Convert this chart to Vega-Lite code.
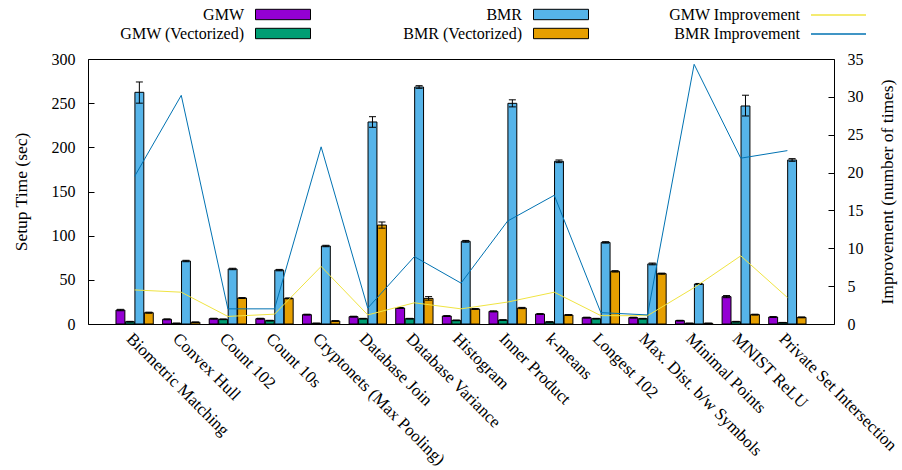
{
  "$schema": "https://vega.github.io/schema/vega-lite/v6.json",
  "autosize": "none",
  "width": 746,
  "height": 265,
  "padding": {"left": 88, "top": 59, "right": 68, "bottom": 146},
  "background": "white",
  "config": {
    "view": {"stroke": "black", "strokeWidth": 1},
    "font": "Liberation Serif",
    "axis": {
      "labelFont": "Liberation Serif", "labelFontSize": 16, "labelColor": "black",
      "titleFont": "Liberation Serif", "titleFontSize": 17.5, "titleFontWeight": "normal", "titleColor": "black",
      "tickColor": "black", "domain": false, "grid": false
    },
    "legend": {
      "labelFont": "Liberation Serif", "labelFontSize": 16, "labelColor": "black",
      "labelAlign": "right", "labelOffset": -49.5, "symbolOffset": 17.5, "rowPadding": 0, "title": null
    }
  },
  "datasets": {
    "bars": [
      {"task": "Biometric Matching", "series": "GMW", "value": 15.8, "lo": 15.0, "hi": 16.6},
      {"task": "Biometric Matching", "series": "GMW (Vectorized)", "value": 2.6, "lo": 2.2, "hi": 3.0},
      {"task": "Biometric Matching", "series": "BMR", "value": 262.3, "lo": 250, "hi": 274},
      {"task": "Biometric Matching", "series": "BMR (Vectorized)", "value": 12.8, "lo": 12.2, "hi": 13.4},
      {"task": "Convex Hull", "series": "GMW", "value": 5.3, "lo": 4.8, "hi": 5.8},
      {"task": "Convex Hull", "series": "GMW (Vectorized)", "value": 0.8, "lo": 0.6, "hi": 1.0},
      {"task": "Convex Hull", "series": "BMR", "value": 71.3, "lo": 70.5, "hi": 72.1},
      {"task": "Convex Hull", "series": "BMR (Vectorized)", "value": 2.0, "lo": 1.7, "hi": 2.3},
      {"task": "Count 102", "series": "GMW", "value": 6.0, "lo": 5.5, "hi": 6.5},
      {"task": "Count 102", "series": "GMW (Vectorized)", "value": 5.3, "lo": 4.9, "hi": 5.7},
      {"task": "Count 102", "series": "BMR", "value": 62.3, "lo": 61.5, "hi": 63.1},
      {"task": "Count 102", "series": "BMR (Vectorized)", "value": 29.4, "lo": 28.9, "hi": 29.9},
      {"task": "Count 10s", "series": "GMW", "value": 6.0, "lo": 5.5, "hi": 6.5},
      {"task": "Count 10s", "series": "GMW (Vectorized)", "value": 3.8, "lo": 3.4, "hi": 4.2},
      {"task": "Count 10s", "series": "BMR", "value": 61.0, "lo": 60.2, "hi": 61.8},
      {"task": "Count 10s", "series": "BMR (Vectorized)", "value": 29.0, "lo": 28.5, "hi": 29.5},
      {"task": "Cryptonets (Max Pooling)", "series": "GMW", "value": 10.6, "lo": 10.1, "hi": 11.1},
      {"task": "Cryptonets (Max Pooling)", "series": "GMW (Vectorized)", "value": 0.8, "lo": 0.6, "hi": 1.0},
      {"task": "Cryptonets (Max Pooling)", "series": "BMR", "value": 88.3, "lo": 87.5, "hi": 89.1},
      {"task": "Cryptonets (Max Pooling)", "series": "BMR (Vectorized)", "value": 3.4, "lo": 3.0, "hi": 3.8},
      {"task": "Database Join", "series": "GMW", "value": 8.3, "lo": 7.8, "hi": 8.8},
      {"task": "Database Join", "series": "GMW (Vectorized)", "value": 6.0, "lo": 5.6, "hi": 6.4},
      {"task": "Database Join", "series": "BMR", "value": 228.7, "lo": 222.7, "hi": 234.7},
      {"task": "Database Join", "series": "BMR (Vectorized)", "value": 112.0, "lo": 108.5, "hi": 115.5},
      {"task": "Database Variance", "series": "GMW", "value": 18.1, "lo": 17.5, "hi": 18.7},
      {"task": "Database Variance", "series": "GMW (Vectorized)", "value": 6.0, "lo": 5.6, "hi": 6.4},
      {"task": "Database Variance", "series": "BMR", "value": 268.3, "lo": 266.8, "hi": 269.8},
      {"task": "Database Variance", "series": "BMR (Vectorized)", "value": 29.0, "lo": 27.0, "hi": 31.0},
      {"task": "Histogram", "series": "GMW", "value": 9.0, "lo": 8.5, "hi": 9.5},
      {"task": "Histogram", "series": "GMW (Vectorized)", "value": 4.1, "lo": 3.7, "hi": 4.5},
      {"task": "Histogram", "series": "BMR", "value": 93.6, "lo": 92.6, "hi": 94.6},
      {"task": "Histogram", "series": "BMR (Vectorized)", "value": 17.0, "lo": 16.5, "hi": 17.5},
      {"task": "Inner Product", "series": "GMW", "value": 14.3, "lo": 13.7, "hi": 14.9},
      {"task": "Inner Product", "series": "GMW (Vectorized)", "value": 4.5, "lo": 4.1, "hi": 4.9},
      {"task": "Inner Product", "series": "BMR", "value": 249.8, "lo": 245.8, "hi": 253.8},
      {"task": "Inner Product", "series": "BMR (Vectorized)", "value": 18.1, "lo": 17.4, "hi": 18.8},
      {"task": "k-means", "series": "GMW", "value": 11.3, "lo": 10.8, "hi": 11.8},
      {"task": "k-means", "series": "GMW (Vectorized)", "value": 2.3, "lo": 2.0, "hi": 2.6},
      {"task": "k-means", "series": "BMR", "value": 184.2, "lo": 182.7, "hi": 185.7},
      {"task": "k-means", "series": "BMR (Vectorized)", "value": 10.2, "lo": 9.7, "hi": 10.7},
      {"task": "Longest 102", "series": "GMW", "value": 7.2, "lo": 6.7, "hi": 7.7},
      {"task": "Longest 102", "series": "GMW (Vectorized)", "value": 6.0, "lo": 5.6, "hi": 6.4},
      {"task": "Longest 102", "series": "BMR", "value": 92.4, "lo": 91.6, "hi": 93.2},
      {"task": "Longest 102", "series": "BMR (Vectorized)", "value": 59.6, "lo": 58.8, "hi": 60.4},
      {"task": "Max. Dist. b/w Symbols", "series": "GMW", "value": 7.2, "lo": 6.7, "hi": 7.7},
      {"task": "Max. Dist. b/w Symbols", "series": "GMW (Vectorized)", "value": 6.0, "lo": 5.6, "hi": 6.4},
      {"task": "Max. Dist. b/w Symbols", "series": "BMR", "value": 68.0, "lo": 67.0, "hi": 69.0},
      {"task": "Max. Dist. b/w Symbols", "series": "BMR (Vectorized)", "value": 57.0, "lo": 56.4, "hi": 57.6},
      {"task": "Minimal Points", "series": "GMW", "value": 3.8, "lo": 3.4, "hi": 4.2},
      {"task": "Minimal Points", "series": "GMW (Vectorized)", "value": 0.8, "lo": 0.6, "hi": 1.0},
      {"task": "Minimal Points", "series": "BMR", "value": 45.3, "lo": 44.7, "hi": 45.9},
      {"task": "Minimal Points", "series": "BMR (Vectorized)", "value": 0.8, "lo": 0.6, "hi": 1.0},
      {"task": "MNIST ReLU", "series": "GMW", "value": 31.0, "lo": 29.8, "hi": 32.2},
      {"task": "MNIST ReLU", "series": "GMW (Vectorized)", "value": 2.6, "lo": 2.2, "hi": 3.0},
      {"task": "MNIST ReLU", "series": "BMR", "value": 246.8, "lo": 235.5, "hi": 259.0},
      {"task": "MNIST ReLU", "series": "BMR (Vectorized)", "value": 10.6, "lo": 10.1, "hi": 11.1},
      {"task": "Private Set Intersection", "series": "GMW", "value": 7.9, "lo": 7.4, "hi": 8.4},
      {"task": "Private Set Intersection", "series": "GMW (Vectorized)", "value": 1.5, "lo": 1.2, "hi": 1.8},
      {"task": "Private Set Intersection", "series": "BMR", "value": 185.7, "lo": 184.2, "hi": 187.2},
      {"task": "Private Set Intersection", "series": "BMR (Vectorized)", "value": 7.5, "lo": 7.0, "hi": 8.0}
    ],
    "lines": [
      {"task": "Biometric Matching", "series": "GMW Improvement", "improvement": 4.5},
      {"task": "Convex Hull", "series": "GMW Improvement", "improvement": 4.2},
      {"task": "Count 102", "series": "GMW Improvement", "improvement": 1.0},
      {"task": "Count 10s", "series": "GMW Improvement", "improvement": 1.3},
      {"task": "Cryptonets (Max Pooling)", "series": "GMW Improvement", "improvement": 7.6},
      {"task": "Database Join", "series": "GMW Improvement", "improvement": 1.2},
      {"task": "Database Variance", "series": "GMW Improvement", "improvement": 2.8},
      {"task": "Histogram", "series": "GMW Improvement", "improvement": 2.0},
      {"task": "Inner Product", "series": "GMW Improvement", "improvement": 2.9},
      {"task": "k-means", "series": "GMW Improvement", "improvement": 4.2},
      {"task": "Longest 102", "series": "GMW Improvement", "improvement": 1.1},
      {"task": "Max. Dist. b/w Symbols", "series": "GMW Improvement", "improvement": 1.1},
      {"task": "Minimal Points", "series": "GMW Improvement", "improvement": 4.8},
      {"task": "MNIST ReLU", "series": "GMW Improvement", "improvement": 9.0},
      {"task": "Private Set Intersection", "series": "GMW Improvement", "improvement": 3.5},
      {"task": "Biometric Matching", "series": "BMR Improvement", "improvement": 19.5},
      {"task": "Convex Hull", "series": "BMR Improvement", "improvement": 30.2},
      {"task": "Count 102", "series": "BMR Improvement", "improvement": 2.0},
      {"task": "Count 10s", "series": "BMR Improvement", "improvement": 2.0},
      {"task": "Cryptonets (Max Pooling)", "series": "BMR Improvement", "improvement": 23.4},
      {"task": "Database Join", "series": "BMR Improvement", "improvement": 2.1},
      {"task": "Database Variance", "series": "BMR Improvement", "improvement": 8.9},
      {"task": "Histogram", "series": "BMR Improvement", "improvement": 5.4},
      {"task": "Inner Product", "series": "BMR Improvement", "improvement": 13.6},
      {"task": "k-means", "series": "BMR Improvement", "improvement": 17.0},
      {"task": "Longest 102", "series": "BMR Improvement", "improvement": 1.5},
      {"task": "Max. Dist. b/w Symbols", "series": "BMR Improvement", "improvement": 1.2},
      {"task": "Minimal Points", "series": "BMR Improvement", "improvement": 34.3},
      {"task": "MNIST ReLU", "series": "BMR Improvement", "improvement": 21.9},
      {"task": "Private Set Intersection", "series": "BMR Improvement", "improvement": 22.9}
    ]
  },
  "encoding": {
    "x": {
      "field": "task", "type": "nominal", "title": null,
      "scale": {
        "domain": ["Biometric Matching", "Convex Hull", "Count 102", "Count 10s", "Cryptonets (Max Pooling)", "Database Join", "Database Variance", "Histogram", "Inner Product", "k-means", "Longest 102", "Max. Dist. b/w Symbols", "Minimal Points", "MNIST ReLU", "Private Set Intersection"],
        "paddingInner": 0.2, "paddingOuter": 0.6
      },
      "axis": {"labelAngle": 45, "labelAlign": "left", "labelBaseline": "top", "ticks": false, "labelPadding": 6, "labelLimit": 400, "labelFontSize": 17}
    }
  },
  "layer": [
    {
      "layer": [
        {
          "data": {"name": "bars"},
          "transform": [{"filter": "indexof(datum.series, 'GMW') === 0"}],
          "mark": {"type": "bar", "stroke": "black", "strokeWidth": 1},
          "encoding": {
            "y": {"field": "value", "type": "quantitative", "title": "Setup Time (sec)",
                  "scale": {"domain": [0, 300], "nice": false},
                  "axis": {"values": [0, 50, 100, 150, 200, 250, 300], "tickSize": -6, "labelPadding": 19, "titlePadding": 21}},
            "xOffset": {"field": "series", "type": "nominal",
                        "scale": {"domain": ["GMW", "GMW (Vectorized)", "BMR", "BMR (Vectorized)"], "paddingInner": 0.06}},
            "fill": {"field": "series", "type": "nominal",
                     "scale": {"domain": ["GMW", "GMW (Vectorized)"], "range": ["#9400D3", "#009E73"]},
                     "legend": {"orient": "none", "legendX": 167, "legendY": -55, "symbolType": "M-2.75,-0.52H2.75V0.52H-2.75Z", "symbolSize": 400, "symbolStrokeColor": "black", "symbolStrokeWidth": 1, "symbolOpacity": 1}}
          }
        },
        {
          "data": {"name": "bars"},
          "transform": [{"filter": "indexof(datum.series, 'BMR') === 0"}],
          "mark": {"type": "bar", "stroke": "black", "strokeWidth": 1},
          "encoding": {
            "y": {"field": "value", "type": "quantitative", "title": "Setup Time (sec)"},
            "xOffset": {"field": "series", "type": "nominal"},
            "color": {"field": "series", "type": "nominal",
                      "scale": {"domain": ["BMR", "BMR (Vectorized)"], "range": ["#56B4E9", "#E69F00"]},
                      "legend": {"orient": "none", "legendX": 445, "legendY": -55, "symbolType": "M-2.75,-0.52H2.75V0.52H-2.75Z", "symbolSize": 400, "symbolStrokeColor": "black", "symbolStrokeWidth": 1, "symbolOpacity": 1}}
          }
        },
        {
          "data": {"name": "bars"},
          "mark": {"type": "bar", "width": 1, "color": "black"},
          "encoding": {
            "y": {"field": "lo", "type": "quantitative", "title": "Setup Time (sec)"},
            "y2": {"field": "hi"},
            "xOffset": {"field": "series", "type": "nominal"}
          }
        },
        {
          "data": {"name": "bars"},
          "mark": {"type": "tick", "color": "black", "thickness": 1, "size": 7, "opacity": 1},
          "encoding": {
            "y": {"field": "lo", "type": "quantitative", "title": "Setup Time (sec)"},
            "xOffset": {"field": "series", "type": "nominal"}
          }
        },
        {
          "data": {"name": "bars"},
          "mark": {"type": "tick", "color": "black", "thickness": 1, "size": 7, "opacity": 1},
          "encoding": {
            "y": {"field": "hi", "type": "quantitative", "title": "Setup Time (sec)"},
            "xOffset": {"field": "series", "type": "nominal"}
          }
        }
      ]
    },
    {
      "data": {"name": "lines"},
      "mark": {"type": "line", "strokeWidth": 1},
      "encoding": {
        "y": {"field": "improvement", "type": "quantitative", "title": "Improvement (number of times)",
              "scale": {"domain": [0, 35], "nice": false},
              "axis": {"orient": "right", "values": [0, 5, 10, 15, 20, 25, 30, 35], "tickSize": -6, "labelPadding": 19, "titlePadding": 33, "titleAngle": -90}},
        "stroke": {"field": "series", "type": "nominal",
                   "scale": {"domain": ["GMW Improvement", "BMR Improvement"], "range": ["#F0E442", "#0072B2"]},
                   "legend": {"orient": "none", "legendX": 722, "legendY": -55, "symbolType": "M-2.75,0H2.75", "symbolSize": 400, "symbolStrokeWidth": 1.5}}
      }
    }
  ],
  "resolve": {"scale": {"y": "independent"}}
}
